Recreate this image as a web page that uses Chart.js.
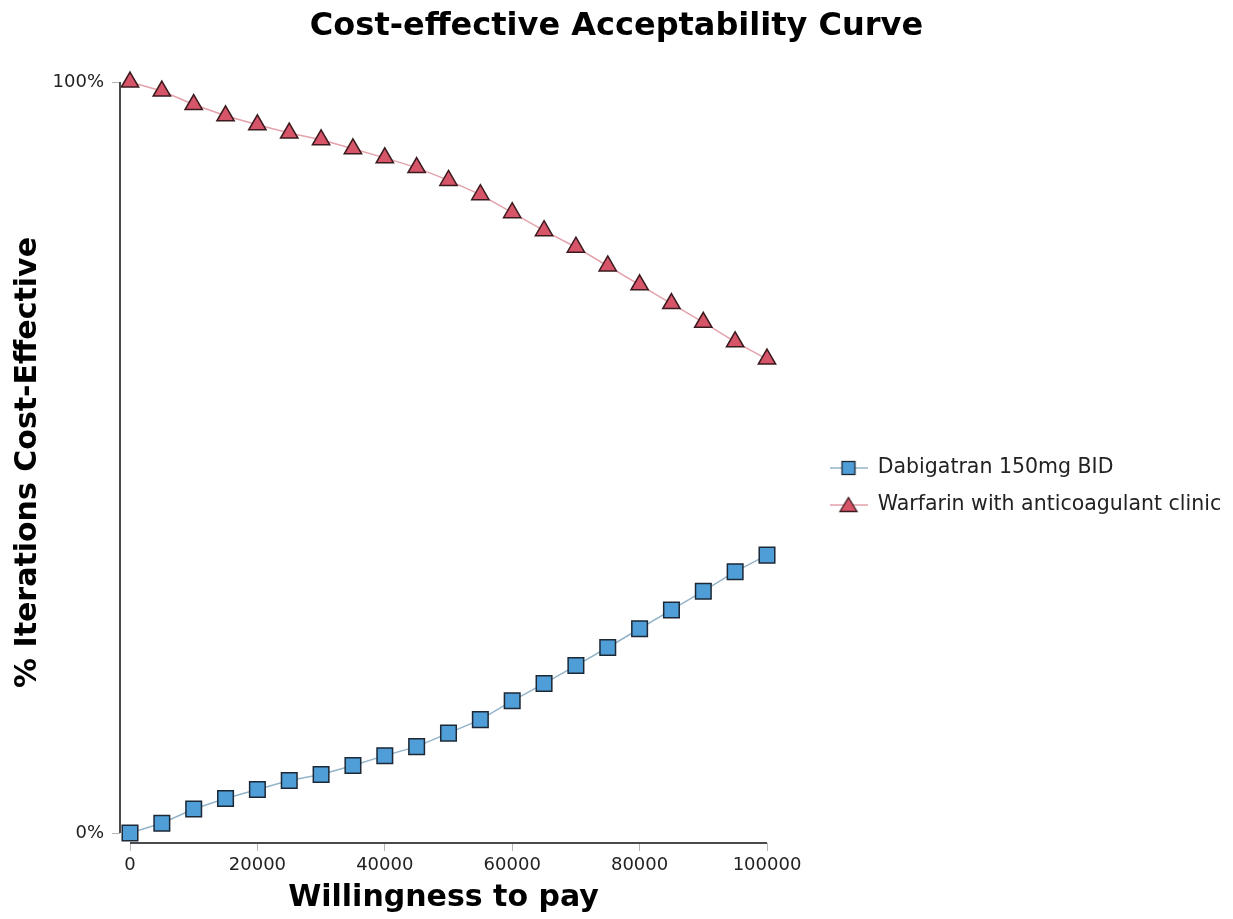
<!DOCTYPE html>
<html>
<head>
<meta charset="utf-8">
<script src="https://cdn.jsdelivr.net/npm/chart.js@4.4.1/dist/chart.umd.min.js"></script>
<style>
  html, body { margin: 0; padding: 0; background: #ffffff; }
  #wrap { width: 1233px; height: 919px; position: relative; }
</style>
</head>
<body>
<div id="wrap"><canvas id="c"></canvas></div>
<script>
const willingnessToPay = [0, 5000, 10000, 15000, 20000, 25000, 30000, 35000, 40000, 45000, 50000,
  55000, 60000, 65000, 70000, 75000, 80000, 85000, 90000, 95000, 100000];
const dabigatranValues = [0, 1.3, 3.2, 4.6, 5.8, 7.0, 7.8, 9.0, 10.3, 11.5, 13.3,
  15.1, 17.6, 19.9, 22.3, 24.7, 27.2, 29.7, 32.2, 34.8, 37.0];
const warfarinValues = [100, 98.8, 97.0, 95.5, 94.3, 93.2, 92.3, 91.1, 89.9, 88.6, 86.9,
  85.0, 82.6, 80.2, 78.0, 75.5, 73.0, 70.5, 68.0, 65.4, 63.1];
const xTickValues = [0, 20000, 40000, 60000, 80000, 100000];
const yTickValues = [0, 100];
const seriesNames = ['Dabigatran 150mg BID', 'Warfarin with anticoagulant clinic'];

const blueFill = '#4f9ed8', blueBorder = '#1c2836', blueLine = '#93b3c9';
const redFill = '#d65568', redBorder = '#3a1a1e', redLine = '#e3a2aa';

Chart.defaults.font.family = "'DejaVu Sans', Verdana, sans-serif";
Chart.defaults.color = '#222';

function legendIcon(kind) {
  const cv = document.createElement('canvas');
  cv.width = 38; cv.height = 20;
  const g = cv.getContext('2d');
  g.strokeStyle = kind === 'rect' ? blueLine : redLine;
  g.lineWidth = 1.5;
  g.beginPath(); g.moveTo(0, 10); g.lineTo(38, 10); g.stroke();
  g.lineWidth = 1.3;
  if (kind === 'rect') {
    g.fillStyle = blueFill; g.strokeStyle = blueBorder;
    g.fillRect(12.5, 3.5, 13, 13); g.strokeRect(12.5, 3.5, 13, 13);
  } else {
    g.fillStyle = redFill; g.strokeStyle = redBorder;
    g.beginPath(); g.moveTo(19, 2.5); g.lineTo(27.5, 16.5); g.lineTo(10.5, 16.5); g.closePath();
    g.fill(); g.stroke();
  }
  return cv;
}

const LEGEND_GAP = 46;

// widen the right-hand legend box beyond the default layout cap
const legendPlacement = {
  id: 'legendPlacement',
  afterLayout(chart) {
    const lg = chart.legend;
    if (!lg) return;
    lg.left = chart.chartArea.right + LEGEND_GAP;
    lg.right = chart.width;
    lg.width = lg.right - lg.left;
  }
};

const axisLines = {
  id: 'axisLines',
  afterDatasetsDraw(chart) {
    const {ctx, chartArea, scales} = chart;
    const x = scales.x, y = scales.y;
    ctx.save();
    ctx.strokeStyle = '#4a4a4a';
    ctx.lineWidth = 2;
    ctx.beginPath();
    ctx.moveTo(chartArea.left, y.getPixelForValue(yTickValues[1]));
    ctx.lineTo(chartArea.left, y.getPixelForValue(yTickValues[0]));
    ctx.moveTo(x.getPixelForValue(xTickValues[0]), chartArea.bottom);
    ctx.lineTo(x.getPixelForValue(xTickValues[xTickValues.length - 1]), chartArea.bottom);
    ctx.stroke();
    ctx.restore();
  }
};

new Chart(document.getElementById('c'), {
  type: 'line',
  data: {
    datasets: [
      {
        label: seriesNames[0],
        data: willingnessToPay.map((v, i) => ({x: v, y: dabigatranValues[i]})),
        borderColor: blueLine, borderWidth: 1.5,
        pointStyle: 'rect', pointRadius: 11, pointHoverRadius: 11,
        pointBackgroundColor: blueFill, pointBorderColor: blueBorder, pointBorderWidth: 1.5,
        tension: 0, clip: false, legendIcon: 'rect'
      },
      {
        label: seriesNames[1],
        data: willingnessToPay.map((v, i) => ({x: v, y: warfarinValues[i]})),
        borderColor: redLine, borderWidth: 1.5,
        pointStyle: 'triangle', pointRadius: 10, pointHoverRadius: 10,
        pointBackgroundColor: redFill, pointBorderColor: redBorder, pointBorderWidth: 1.5,
        tension: 0, clip: false, legendIcon: 'triangle'
      }
    ]
  },
  options: {
    responsive: true,
    maintainAspectRatio: false,
    animation: false,
    layout: { padding: { left: 0, right: 0, top: 0, bottom: 0 } },
    plugins: {
      title: {
        display: true,
        text: 'Cost-effective Acceptability Curve',
        font: { size: 32, weight: 'bold' },
        color: '#000',
        padding: { top: 7, bottom: 36.6 }
      },
      legend: {
        position: 'right',
        title: { display: true, text: '', font: { size: 10 }, padding: { top: 0, bottom: 42 } },
        labels: {
          usePointStyle: true,
          pointStyleWidth: 38,
          padding: 16.5,
          font: { size: 20.5 },
          color: '#222',
          generateLabels(chart) {
            return chart.data.datasets.map((ds, i) => ({
              text: ds.label,
              pointStyle: legendIcon(ds.legendIcon),
              fillStyle: ds.pointBackgroundColor,
              strokeStyle: ds.pointBorderColor,
              lineWidth: 0,
              hidden: false,
              datasetIndex: i
            }));
          }
        }
      },
      tooltip: { enabled: false }
    },
    scales: {
      x: {
        type: 'linear',
        position: 'bottom',
        min: -1570,
        max: 100000,
        afterBuildTicks(s) { s.ticks = xTickValues.map(v => ({value: v})); },
        afterFit(s) { s.height = 76; },
        ticks: {
          font: { size: 18 }, color: '#222', padding: 4, maxRotation: 0,
          callback: v => String(v)
        },
        grid: { display: true, drawOnChartArea: false, drawTicks: true, tickLength: 8, color: '#b5b5b5' },
        border: { display: false },
        title: {
          display: true, text: 'Willingness to pay',
          font: { size: 30, weight: 'bold' }, color: '#000',
          padding: { top: 0, bottom: 3 }
        }
      },
      y: {
        type: 'linear',
        position: 'left',
        min: -1.33,
        max: 100,
        afterBuildTicks(s) { s.ticks = yTickValues.map(v => ({value: v})); },
        afterFit(s) { s.width = 120; },
        ticks: {
          font: { size: 18 }, color: '#222', padding: 8,
          callback: v => v + '%'
        },
        grid: { display: true, drawOnChartArea: false, drawTicks: true, tickLength: 8, color: '#b5b5b5' },
        border: { display: false },
        title: {
          display: true, text: '% Iterations Cost-Effective',
          font: { size: 30, weight: 'bold' }, color: '#000',
          padding: { top: 10, bottom: 0 }
        }
      },
      gap: {
        type: 'linear',
        position: 'right',
        display: true,
        afterFit(s) { s.width = 260.5; },
        ticks: { display: false },
        grid: { display: false },
        border: { display: false }
      }
    }
  },
  plugins: [legendPlacement, axisLines]
});
</script>
</body>
</html>
